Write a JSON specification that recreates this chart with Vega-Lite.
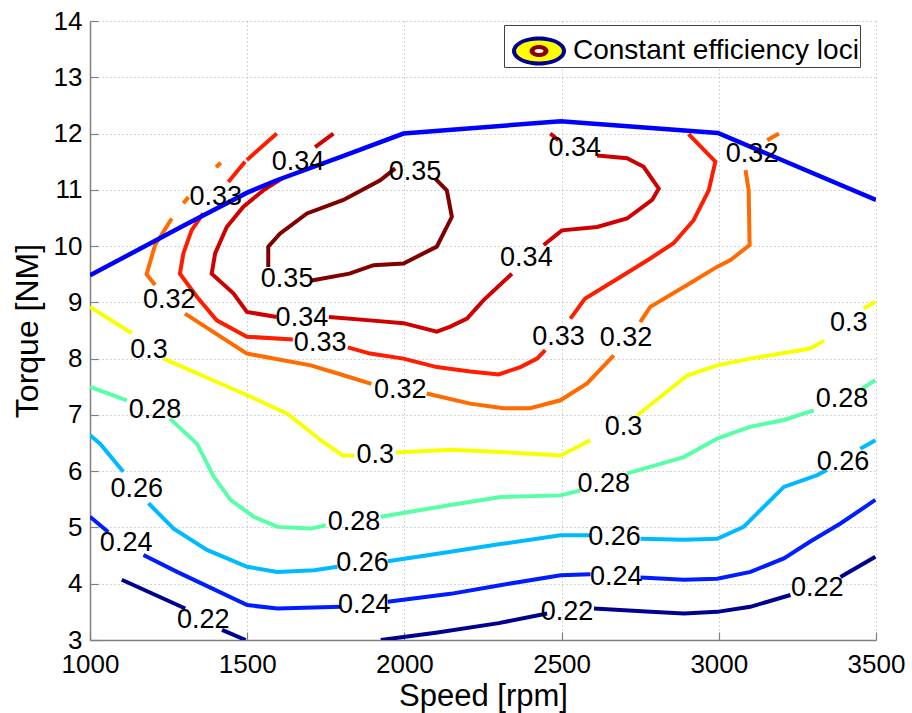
{
  "$schema": "https://vega.github.io/schema/vega-lite/v6.json",
  "width": 786,
  "height": 619,
  "autosize": {"type": "none"},
  "padding": {"left": 90, "top": 21, "right": 36, "bottom": 73},
  "background": "white",
  "config": {"font": "Liberation Sans", "view": {"stroke": null}},
  "datasets": {
    "lines": [
      {"level":"0.22","seg":"0.22a","ord":1,"speed":1101,"torque":4.07},
      {"level":"0.22","seg":"0.22a","ord":2,"speed":1303,"torque":3.56},
      {"level":"0.22","seg":"0.22b","ord":3,"speed":1420,"torque":3.18},
      {"level":"0.22","seg":"0.22b","ord":4,"speed":1495,"torque":3.0},
      {"level":"0.22","seg":"0.22c","ord":5,"speed":1925,"torque":3.0},
      {"level":"0.22","seg":"0.22c","ord":6,"speed":2100,"torque":3.13},
      {"level":"0.22","seg":"0.22c","ord":7,"speed":2300,"torque":3.30},
      {"level":"0.22","seg":"0.22c","ord":8,"speed":2454,"torque":3.47},
      {"level":"0.22","seg":"0.22d","ord":9,"speed":2603,"torque":3.56},
      {"level":"0.22","seg":"0.22d","ord":10,"speed":2783,"torque":3.50},
      {"level":"0.22","seg":"0.22d","ord":11,"speed":2889,"torque":3.47},
      {"level":"0.22","seg":"0.22d","ord":12,"speed":2995,"torque":3.50},
      {"level":"0.22","seg":"0.22d","ord":13,"speed":3100,"torque":3.59},
      {"level":"0.22","seg":"0.22d","ord":14,"speed":3228,"torque":3.80},
      {"level":"0.22","seg":"0.22e","ord":15,"speed":3387,"torque":4.12},
      {"level":"0.22","seg":"0.22e","ord":16,"speed":3498,"torque":4.48},

      {"level":"0.24","seg":"0.24a","ord":20,"speed":1000,"torque":5.19},
      {"level":"0.24","seg":"0.24a","ord":21,"speed":1058,"torque":4.92},
      {"level":"0.24","seg":"0.24b","ord":22,"speed":1170,"torque":4.51},
      {"level":"0.24","seg":"0.24b","ord":23,"speed":1277,"torque":4.21},
      {"level":"0.24","seg":"0.24b","ord":24,"speed":1500,"torque":3.62},
      {"level":"0.24","seg":"0.24b","ord":25,"speed":1596,"torque":3.56},
      {"level":"0.24","seg":"0.24b","ord":26,"speed":1798,"torque":3.59},
      {"level":"0.24","seg":"0.24c","ord":27,"speed":1947,"torque":3.68},
      {"level":"0.24","seg":"0.24c","ord":28,"speed":2147,"torque":3.82},
      {"level":"0.24","seg":"0.24c","ord":29,"speed":2300,"torque":3.97},
      {"level":"0.24","seg":"0.24c","ord":30,"speed":2497,"torque":4.15},
      {"level":"0.24","seg":"0.24c","ord":31,"speed":2592,"torque":4.17},
      {"level":"0.24","seg":"0.24d","ord":32,"speed":2751,"torque":4.11},
      {"level":"0.24","seg":"0.24d","ord":33,"speed":2889,"torque":4.07},
      {"level":"0.24","seg":"0.24d","ord":34,"speed":2995,"torque":4.09},
      {"level":"0.24","seg":"0.24d","ord":35,"speed":3101,"torque":4.21},
      {"level":"0.24","seg":"0.24d","ord":36,"speed":3207,"torque":4.45},
      {"level":"0.24","seg":"0.24d","ord":37,"speed":3291,"torque":4.75},
      {"level":"0.24","seg":"0.24d","ord":38,"speed":3387,"torque":5.07},
      {"level":"0.24","seg":"0.24d","ord":39,"speed":3498,"torque":5.49},

      {"level":"0.26","seg":"0.26a","ord":40,"speed":1000,"torque":6.64},
      {"level":"0.26","seg":"0.26a","ord":41,"speed":1032,"torque":6.49},
      {"level":"0.26","seg":"0.26a","ord":42,"speed":1106,"torque":5.99},
      {"level":"0.26","seg":"0.26b","ord":43,"speed":1186,"torque":5.43},
      {"level":"0.26","seg":"0.26b","ord":44,"speed":1266,"torque":4.98},
      {"level":"0.26","seg":"0.26b","ord":45,"speed":1372,"torque":4.60},
      {"level":"0.26","seg":"0.26b","ord":46,"speed":1500,"torque":4.30},
      {"level":"0.26","seg":"0.26b","ord":47,"speed":1596,"torque":4.21},
      {"level":"0.26","seg":"0.26b","ord":48,"speed":1713,"torque":4.24},
      {"level":"0.26","seg":"0.26b","ord":49,"speed":1787,"torque":4.30},
      {"level":"0.26","seg":"0.26c","ord":50,"speed":1947,"torque":4.40},
      {"level":"0.26","seg":"0.26c","ord":51,"speed":2147,"torque":4.57},
      {"level":"0.26","seg":"0.26c","ord":52,"speed":2300,"torque":4.70},
      {"level":"0.26","seg":"0.26c","ord":53,"speed":2497,"torque":4.86},
      {"level":"0.26","seg":"0.26c","ord":54,"speed":2592,"torque":4.86},
      {"level":"0.26","seg":"0.26d","ord":55,"speed":2751,"torque":4.80},
      {"level":"0.26","seg":"0.26d","ord":56,"speed":2889,"torque":4.78},
      {"level":"0.26","seg":"0.26d","ord":57,"speed":2995,"torque":4.80},
      {"level":"0.26","seg":"0.26d","ord":58,"speed":3079,"torque":5.01},
      {"level":"0.26","seg":"0.26d","ord":59,"speed":3122,"torque":5.25},
      {"level":"0.26","seg":"0.26d","ord":60,"speed":3207,"torque":5.72},
      {"level":"0.26","seg":"0.26d","ord":61,"speed":3313,"torque":5.93},
      {"level":"0.26","seg":"0.26d","ord":62,"speed":3344,"torque":6.02},
      {"level":"0.26","seg":"0.26e","ord":63,"speed":3450,"torque":6.40},
      {"level":"0.26","seg":"0.26e","ord":64,"speed":3498,"torque":6.55},

      {"level":"0.28","seg":"0.28a","ord":70,"speed":1000,"torque":7.50},
      {"level":"0.28","seg":"0.28a","ord":71,"speed":1117,"torque":7.26},
      {"level":"0.28","seg":"0.28b","ord":72,"speed":1255,"torque":6.93},
      {"level":"0.28","seg":"0.28b","ord":73,"speed":1340,"torque":6.49},
      {"level":"0.28","seg":"0.28b","ord":74,"speed":1394,"torque":5.90},
      {"level":"0.28","seg":"0.28b","ord":75,"speed":1447,"torque":5.49},
      {"level":"0.28","seg":"0.28b","ord":76,"speed":1521,"torque":5.19},
      {"level":"0.28","seg":"0.28b","ord":77,"speed":1596,"torque":5.01},
      {"level":"0.28","seg":"0.28b","ord":78,"speed":1702,"torque":4.98},
      {"level":"0.28","seg":"0.28b","ord":79,"speed":1750,"torque":5.04},
      {"level":"0.28","seg":"0.28c","ord":80,"speed":1925,"torque":5.19},
      {"level":"0.28","seg":"0.28c","ord":81,"speed":2147,"torque":5.40},
      {"level":"0.28","seg":"0.28c","ord":82,"speed":2306,"torque":5.54},
      {"level":"0.28","seg":"0.28c","ord":83,"speed":2497,"torque":5.57},
      {"level":"0.28","seg":"0.28c","ord":84,"speed":2560,"torque":5.66},
      {"level":"0.28","seg":"0.28d","ord":85,"speed":2709,"torque":5.96},
      {"level":"0.28","seg":"0.28d","ord":86,"speed":2889,"torque":6.25},
      {"level":"0.28","seg":"0.28d","ord":87,"speed":2995,"torque":6.58},
      {"level":"0.28","seg":"0.28d","ord":88,"speed":3101,"torque":6.79},
      {"level":"0.28","seg":"0.28d","ord":89,"speed":3207,"torque":6.91},
      {"level":"0.28","seg":"0.28d","ord":90,"speed":3302,"torque":7.08},
      {"level":"0.28","seg":"0.28e","ord":91,"speed":3450,"torque":7.44},
      {"level":"0.28","seg":"0.28e","ord":92,"speed":3498,"torque":7.62},

      {"level":"0.3","seg":"0.3a","ord":100,"speed":1000,"torque":8.92},
      {"level":"0.3","seg":"0.3a","ord":101,"speed":1133,"torque":8.45},
      {"level":"0.3","seg":"0.3b","ord":102,"speed":1234,"torque":8.0},
      {"level":"0.3","seg":"0.3b","ord":103,"speed":1500,"torque":7.35},
      {"level":"0.3","seg":"0.3b","ord":104,"speed":1628,"torque":7.02},
      {"level":"0.3","seg":"0.3b","ord":105,"speed":1734,"torque":6.55},
      {"level":"0.3","seg":"0.3b","ord":106,"speed":1803,"torque":6.28},
      {"level":"0.3","seg":"0.3b","ord":107,"speed":1840,"torque":6.28},
      {"level":"0.3","seg":"0.3c","ord":108,"speed":1973,"torque":6.33},
      {"level":"0.3","seg":"0.3c","ord":109,"speed":2147,"torque":6.38},
      {"level":"0.3","seg":"0.3c","ord":110,"speed":2306,"torque":6.34},
      {"level":"0.3","seg":"0.3c","ord":111,"speed":2497,"torque":6.28},
      {"level":"0.3","seg":"0.3c","ord":112,"speed":2592,"torque":6.55},
      {"level":"0.3","seg":"0.3d","ord":113,"speed":2740,"torque":6.99},
      {"level":"0.3","seg":"0.3d","ord":114,"speed":2899,"torque":7.70},
      {"level":"0.3","seg":"0.3d","ord":115,"speed":2995,"torque":7.88},
      {"level":"0.3","seg":"0.3d","ord":116,"speed":3100,"torque":8.0},
      {"level":"0.3","seg":"0.3d","ord":117,"speed":3207,"torque":8.10},
      {"level":"0.3","seg":"0.3d","ord":118,"speed":3291,"torque":8.18},
      {"level":"0.3","seg":"0.3d","ord":119,"speed":3335,"torque":8.32},
      {"level":"0.3","seg":"0.3e","ord":120,"speed":3461,"torque":8.89},
      {"level":"0.3","seg":"0.3e","ord":121,"speed":3498,"torque":9.01},

      {"level":"0.32","seg":"0.32a","ord":130,"speed":1207,"torque":9.31},
      {"level":"0.32","seg":"0.32a","ord":131,"speed":1180,"torque":9.50},
      {"level":"0.32","seg":"0.32a","ord":132,"speed":1207,"torque":10.02},
      {"level":"0.32","seg":"0.32a","ord":133,"speed":1260,"torque":10.49},
      {"level":"0.32","seg":"0.32b","ord":134,"speed":1297,"torque":10.76},
      {"level":"0.32","seg":"0.32b","ord":135,"speed":1313,"torque":10.87},
      {"level":"0.32","seg":"0.32c","ord":136,"speed":1401,"torque":11.40},
      {"level":"0.32","seg":"0.32c","ord":137,"speed":1416,"torque":11.48},
      {"level":"0.32","seg":"0.32d","ord":138,"speed":1302,"torque":8.80},
      {"level":"0.32","seg":"0.32d","ord":139,"speed":1499,"torque":8.09},
      {"level":"0.32","seg":"0.32d","ord":140,"speed":1702,"torque":7.88},
      {"level":"0.32","seg":"0.32d","ord":141,"speed":1809,"torque":7.70},
      {"level":"0.32","seg":"0.32d","ord":142,"speed":1895,"torque":7.55},
      {"level":"0.32","seg":"0.32e","ord":143,"speed":2071,"torque":7.38},
      {"level":"0.32","seg":"0.32e","ord":144,"speed":2209,"torque":7.20},
      {"level":"0.32","seg":"0.32e","ord":145,"speed":2315,"torque":7.12},
      {"level":"0.32","seg":"0.32e","ord":146,"speed":2400,"torque":7.12},
      {"level":"0.32","seg":"0.32e","ord":147,"speed":2496,"torque":7.26},
      {"level":"0.32","seg":"0.32e","ord":148,"speed":2581,"torque":7.56},
      {"level":"0.32","seg":"0.32e","ord":149,"speed":2666,"torque":8.06},
      {"level":"0.32","seg":"0.32f","ord":150,"speed":2750,"torque":8.65},
      {"level":"0.32","seg":"0.32f","ord":151,"speed":2782,"torque":8.92},
      {"level":"0.32","seg":"0.32f","ord":152,"speed":2899,"torque":9.31},
      {"level":"0.32","seg":"0.32f","ord":153,"speed":2994,"torque":9.63},
      {"level":"0.32","seg":"0.32f","ord":154,"speed":3037,"torque":9.75},
      {"level":"0.32","seg":"0.32f","ord":155,"speed":3098,"torque":10.02},
      {"level":"0.32","seg":"0.32f","ord":156,"speed":3095,"torque":10.99},
      {"level":"0.32","seg":"0.32f","ord":157,"speed":3085,"torque":11.35},
      {"level":"0.32","seg":"0.32g","ord":158,"speed":3154,"torque":11.88},
      {"level":"0.32","seg":"0.32g","ord":159,"speed":3191,"torque":12.0},

      {"level":"0.33","seg":"0.33a","ord":160,"speed":1440,"torque":11.14},
      {"level":"0.33","seg":"0.33a","ord":161,"speed":1493,"torque":11.50},
      {"level":"0.33","seg":"0.33b","ord":162,"speed":1499,"torque":11.53},
      {"level":"0.33","seg":"0.33b","ord":163,"speed":1594,"torque":12.0},
      {"level":"0.33","seg":"0.33c","ord":164,"speed":1360,"torque":10.58},
      {"level":"0.33","seg":"0.33c","ord":165,"speed":1323,"torque":10.28},
      {"level":"0.33","seg":"0.33c","ord":166,"speed":1297,"torque":9.87},
      {"level":"0.33","seg":"0.33c","ord":167,"speed":1286,"torque":9.51},
      {"level":"0.33","seg":"0.33c","ord":168,"speed":1340,"torque":9.10},
      {"level":"0.33","seg":"0.33c","ord":169,"speed":1403,"torque":8.68},
      {"level":"0.33","seg":"0.33c","ord":170,"speed":1499,"torque":8.39},
      {"level":"0.33","seg":"0.33c","ord":171,"speed":1645,"torque":8.34},
      {"level":"0.33","seg":"0.33d","ord":172,"speed":1820,"torque":8.20},
      {"level":"0.33","seg":"0.33d","ord":173,"speed":1891,"torque":8.09},
      {"level":"0.33","seg":"0.33d","ord":174,"speed":1997,"torque":8.00},
      {"level":"0.33","seg":"0.33d","ord":175,"speed":2103,"torque":7.85},
      {"level":"0.33","seg":"0.33d","ord":176,"speed":2209,"torque":7.77},
      {"level":"0.33","seg":"0.33d","ord":177,"speed":2300,"torque":7.72},
      {"level":"0.33","seg":"0.33d","ord":178,"speed":2369,"torque":7.85},
      {"level":"0.33","seg":"0.33d","ord":179,"speed":2422,"torque":8.00},
      {"level":"0.33","seg":"0.33d","ord":180,"speed":2448,"torque":8.15},
      {"level":"0.33","seg":"0.33e","ord":181,"speed":2528,"torque":8.71},
      {"level":"0.33","seg":"0.33e","ord":182,"speed":2575,"torque":9.07},
      {"level":"0.33","seg":"0.33e","ord":183,"speed":2687,"torque":9.45},
      {"level":"0.33","seg":"0.33e","ord":184,"speed":2782,"torque":9.78},
      {"level":"0.33","seg":"0.33e","ord":185,"speed":2856,"torque":10.05},
      {"level":"0.33","seg":"0.33e","ord":186,"speed":2920,"torque":10.46},
      {"level":"0.33","seg":"0.33e","ord":187,"speed":2968,"torque":10.99},
      {"level":"0.33","seg":"0.33e","ord":188,"speed":2989,"torque":11.50},
      {"level":"0.33","seg":"0.33e","ord":189,"speed":2904,"torque":11.99},

      {"level":"0.34","seg":"0.34a","ord":190,"speed":1716,"torque":11.76},
      {"level":"0.34","seg":"0.34a","ord":191,"speed":1774,"torque":12.0},
      {"level":"0.34","seg":"0.34b","ord":192,"speed":1610,"torque":11.20},
      {"level":"0.34","seg":"0.34b","ord":193,"speed":1551,"torque":10.99},
      {"level":"0.34","seg":"0.34b","ord":194,"speed":1488,"torque":10.70},
      {"level":"0.34","seg":"0.34b","ord":195,"speed":1435,"torque":10.34},
      {"level":"0.34","seg":"0.34b","ord":196,"speed":1398,"torque":9.87},
      {"level":"0.34","seg":"0.34b","ord":197,"speed":1387,"torque":9.51},
      {"level":"0.34","seg":"0.34b","ord":198,"speed":1456,"torque":9.16},
      {"level":"0.34","seg":"0.34b","ord":199,"speed":1499,"torque":8.83},
      {"level":"0.34","seg":"0.34b","ord":200,"speed":1594,"torque":8.74},
      {"level":"0.34","seg":"0.34c","ord":201,"speed":1760,"torque":8.74},
      {"level":"0.34","seg":"0.34c","ord":202,"speed":1891,"torque":8.68},
      {"level":"0.34","seg":"0.34c","ord":203,"speed":1997,"torque":8.63},
      {"level":"0.34","seg":"0.34c","ord":204,"speed":2103,"torque":8.48},
      {"level":"0.34","seg":"0.34c","ord":205,"speed":2146,"torque":8.57},
      {"level":"0.34","seg":"0.34c","ord":206,"speed":2199,"torque":8.71},
      {"level":"0.34","seg":"0.34c","ord":207,"speed":2252,"torque":9.04},
      {"level":"0.34","seg":"0.34c","ord":208,"speed":2342,"torque":9.51},
      {"level":"0.34","seg":"0.34d","ord":209,"speed":2443,"torque":10.02},
      {"level":"0.34","seg":"0.34d","ord":210,"speed":2501,"torque":10.28},
      {"level":"0.34","seg":"0.34d","ord":211,"speed":2613,"torque":10.34},
      {"level":"0.34","seg":"0.34d","ord":212,"speed":2708,"torque":10.49},
      {"level":"0.34","seg":"0.34d","ord":213,"speed":2788,"torque":10.82},
      {"level":"0.34","seg":"0.34d","ord":214,"speed":2809,"torque":11.02},
      {"level":"0.34","seg":"0.34d","ord":215,"speed":2761,"torque":11.41},
      {"level":"0.34","seg":"0.34d","ord":216,"speed":2708,"torque":11.56},
      {"level":"0.34","seg":"0.34d","ord":217,"speed":2613,"torque":11.61},
      {"level":"0.34","seg":"0.34e","ord":218,"speed":2464,"torque":12.0},
      {"level":"0.34","seg":"0.34e","ord":219,"speed":2490,"torque":11.88},

      {"level":"0.35","seg":"0.35a","ord":220,"speed":1567,"torque":9.63},
      {"level":"0.35","seg":"0.35a","ord":221,"speed":1567,"torque":9.99},
      {"level":"0.35","seg":"0.35a","ord":222,"speed":1604,"torque":10.22},
      {"level":"0.35","seg":"0.35a","ord":223,"speed":1690,"torque":10.58},
      {"level":"0.35","seg":"0.35a","ord":224,"speed":1806,"torque":10.82},
      {"level":"0.35","seg":"0.35a","ord":225,"speed":1923,"torque":11.17},
      {"level":"0.35","seg":"0.35a","ord":226,"speed":1971,"torque":11.38},
      {"level":"0.35","seg":"0.35b","ord":227,"speed":2098,"torque":11.20},
      {"level":"0.35","seg":"0.35b","ord":228,"speed":2135,"torque":10.99},
      {"level":"0.35","seg":"0.35b","ord":229,"speed":2151,"torque":10.52},
      {"level":"0.35","seg":"0.35b","ord":230,"speed":2103,"torque":9.99},
      {"level":"0.35","seg":"0.35b","ord":231,"speed":1997,"torque":9.69},
      {"level":"0.35","seg":"0.35b","ord":232,"speed":1902,"torque":9.66},
      {"level":"0.35","seg":"0.35b","ord":233,"speed":1825,"torque":9.51},
      {"level":"0.35","seg":"0.35b","ord":234,"speed":1705,"torque":9.39}
    ],
    "boundary": [
      {"speed":1000,"torque":9.48},
      {"speed":1300,"torque":10.37},
      {"speed":1500,"torque":10.95},
      {"speed":1594,"torque":11.17},
      {"speed":1800,"torque":11.59},
      {"speed":1997,"torque":12.0},
      {"speed":2497,"torque":12.22},
      {"speed":2997,"torque":12.01},
      {"speed":3500,"torque":10.82}
    ],
    "labels": [
      {"label":"0.35","speed":2034,"torque":11.31},
      {"label":"0.35","speed":1627,"torque":9.41},
      {"label":"0.34","speed":1662,"torque":11.49},
      {"label":"0.34","speed":2542,"torque":11.74},
      {"label":"0.34","speed":2388,"torque":9.78},
      {"label":"0.34","speed":1674,"torque":8.72},
      {"label":"0.33","speed":1400,"torque":10.87},
      {"label":"0.33","speed":1732,"torque":8.27},
      {"label":"0.33","speed":2490,"torque":8.39},
      {"label":"0.32","speed":1252,"torque":9.04},
      {"label":"0.32","speed":1987,"torque":7.44},
      {"label":"0.32","speed":2705,"torque":8.36},
      {"label":"0.32","speed":3106,"torque":11.63},
      {"label":"0.3","speed":1188,"torque":8.15},
      {"label":"0.3","speed":1907,"torque":6.29},
      {"label":"0.3","speed":2697,"torque":6.79},
      {"label":"0.3","speed":3413,"torque":8.63},
      {"label":"0.28","speed":1207,"torque":7.09},
      {"label":"0.28","speed":1840,"torque":5.09},
      {"label":"0.28","speed":2634,"torque":5.78},
      {"label":"0.28","speed":3392,"torque":7.28},
      {"label":"0.26","speed":1149,"torque":5.69},
      {"label":"0.26","speed":1867,"torque":4.36},
      {"label":"0.26","speed":2668,"torque":4.83},
      {"label":"0.26","speed":3395,"torque":6.17},
      {"label":"0.24","speed":1115,"torque":4.72},
      {"label":"0.24","speed":1872,"torque":3.62},
      {"label":"0.24","speed":2674,"torque":4.12},
      {"label":"0.22","speed":1360,"torque":3.36},
      {"label":"0.22","speed":2517,"torque":3.50},
      {"label":"0.22","speed":3313,"torque":3.92}
    ]
  },
  "layer": [
    {
      "data": {"name": "lines"},
      "mark": {"type": "line", "strokeWidth": 4, "clip": true},
      "encoding": {
        "x": {
          "field": "speed", "type": "quantitative",
          "scale": {"domain": [1000, 3500], "nice": false, "zero": false},
          "axis": {
            "title": "Speed [rpm]", "values": [1000, 1500, 2000, 2500, 3000, 3500], "format": "d",
            "grid": true, "gridDash": [1, 3], "gridColor": "#a8a8a8", "gridWidth": 1,
            "domainColor": "#808080", "domainWidth": 1.5,
            "tickColor": "#808080", "tickSize": -8, "tickWidth": 1.2,
            "labelPadding": 19, "labelFontSize": 26, "labelColor": "black", "labelFont": "Liberation Sans",
            "labelFlush": false, "labelOverlap": false,
            "titleFontSize": 31, "titleFontWeight": "normal", "titleColor": "black", "titleFont": "Liberation Sans",
            "titlePadding": 4
          }
        },
        "y": {
          "field": "torque", "type": "quantitative",
          "scale": {"domain": [3, 14], "nice": false, "zero": false},
          "axis": {
            "title": "Torque [NM]", "values": [3, 4, 5, 6, 7, 8, 9, 10, 11, 12, 13, 14], "format": "d",
            "grid": true, "gridDash": [1, 3], "gridColor": "#a8a8a8", "gridWidth": 1,
            "domainColor": "#808080", "domainWidth": 1.5,
            "tickColor": "#808080", "tickSize": -8, "tickWidth": 1.2,
            "labelPadding": 16, "labelFontSize": 26, "labelColor": "black", "labelFont": "Liberation Sans",
            "labelFlush": false, "labelOverlap": false,
            "titleFontSize": 32, "titleFontWeight": "normal", "titleColor": "black", "titleFont": "Liberation Sans",
            "titlePadding": 9
          }
        },
        "detail": {"field": "seg"},
        "order": {"field": "ord", "type": "quantitative"},
        "color": {
          "field": "level", "type": "nominal",
          "scale": {
            "domain": ["0.22", "0.24", "0.26", "0.28", "0.3", "0.32", "0.33", "0.34", "0.35"],
            "range": ["#00008F", "#001DFF", "#00BAFF", "#58FFA7", "#F8FF00", "#FF6B00", "#FF1D00", "#CF0000", "#800000"]
          },
          "legend": null
        }
      }
    },
    {
      "data": {"name": "boundary"},
      "mark": {"type": "line", "strokeWidth": 4.5, "color": "#0000FF", "clip": true},
      "encoding": {
        "x": {"field": "speed", "type": "quantitative"},
        "y": {"field": "torque", "type": "quantitative"}
      }
    },
    {
      "data": {"name": "labels"},
      "mark": {"type": "text", "fontSize": 27, "font": "Liberation Sans", "color": "black", "align": "center", "baseline": "middle"},
      "encoding": {
        "x": {"field": "speed", "type": "quantitative"},
        "y": {"field": "torque", "type": "quantitative"},
        "text": {"field": "label"}
      }
    },
    {
      "data": {"values": []},
      "mark": {"type": "point", "filled": true, "fill": "#000090", "strokeWidth": 0},
      "encoding": {
        "shape": {
          "datum": "Constant efficiency loci",
          "scale": {"range": ["M-1.08,0A1.08,0.58,0,1,1,1.08,0A1.08,0.58,0,1,1,-1.08,0Z"]},
          "legend": {
            "orient": "none", "legendX": 414, "legendY": 4, "title": null,
            "labelFontSize": 28, "labelFont": "Liberation Sans", "labelColor": "black", "labelBaseline": "middle", "labelLimit": 0,
            "symbolSize": 2500, "symbolOpacity": 1, "symbolFillColor": "#000090", "symbolStrokeWidth": 0,
            "fillColor": "white", "strokeColor": "#404040", "padding": 1, "labelOffset": 9, "symbolOffset": 9,
            "encode": {"symbols": {"update": {"fill": {"value": "#000090"}, "strokeWidth": {"value": 0}, "opacity": {"value": 1}}}}
          }
        }
      }
    },
    {
      "data": {"values": []},
      "mark": {"type": "point", "filled": true, "fill": "#FFFF00", "strokeWidth": 0},
      "encoding": {
        "shape": {
          "datum": "ring2",
          "scale": {"range": ["M-0.92,0A0.92,0.42,0,1,1,0.92,0A0.92,0.42,0,1,1,-0.92,0Z"]},
          "legend": {
            "orient": "none", "legendX": 414, "legendY": 4, "title": null,
            "labelFontSize": 28, "labelExpr": "''", "labelBaseline": "middle",
            "symbolSize": 2500, "symbolOpacity": 1, "symbolFillColor": "#FFFF00", "symbolStrokeWidth": 0,
            "padding": 1, "labelOffset": 9, "symbolOffset": 9,
            "encode": {"symbols": {"update": {"fill": {"value": "#FFFF00"}, "strokeWidth": {"value": 0}, "opacity": {"value": 1}}}}
          }
        }
      }
    },
    {
      "data": {"values": []},
      "mark": {"type": "point", "filled": true, "fill": "#8B0000", "strokeWidth": 0},
      "encoding": {
        "shape": {
          "datum": "ring3",
          "scale": {"range": ["M-0.38,0A0.38,0.24,0,1,1,0.38,0A0.38,0.24,0,1,1,-0.38,0Z"]},
          "legend": {
            "orient": "none", "legendX": 414, "legendY": 4, "title": null,
            "labelFontSize": 28, "labelExpr": "''", "labelBaseline": "middle",
            "symbolSize": 2500, "symbolOpacity": 1, "symbolFillColor": "#8B0000", "symbolStrokeWidth": 0,
            "padding": 1, "labelOffset": 9, "symbolOffset": 9,
            "encode": {"symbols": {"update": {"fill": {"value": "#8B0000"}, "strokeWidth": {"value": 0}, "opacity": {"value": 1}}}}
          }
        }
      }
    },
    {
      "data": {"values": []},
      "mark": {"type": "point", "filled": true, "fill": "white", "strokeWidth": 0},
      "encoding": {
        "shape": {
          "datum": "ring4",
          "scale": {"range": ["M-0.18,0A0.18,0.08,0,1,1,0.18,0A0.18,0.08,0,1,1,-0.18,0Z"]},
          "legend": {
            "orient": "none", "legendX": 414, "legendY": 4, "title": null,
            "labelFontSize": 28, "labelExpr": "''", "labelBaseline": "middle",
            "symbolSize": 2500, "symbolOpacity": 1, "symbolFillColor": "white", "symbolStrokeWidth": 0,
            "padding": 1, "labelOffset": 9, "symbolOffset": 9,
            "encode": {"symbols": {"update": {"fill": {"value": "white"}, "strokeWidth": {"value": 0}, "opacity": {"value": 1}}}}
          }
        }
      }
    }
  ],
  "resolve": {"scale": {"shape": "independent"}, "legend": {"shape": "independent"}}
}
